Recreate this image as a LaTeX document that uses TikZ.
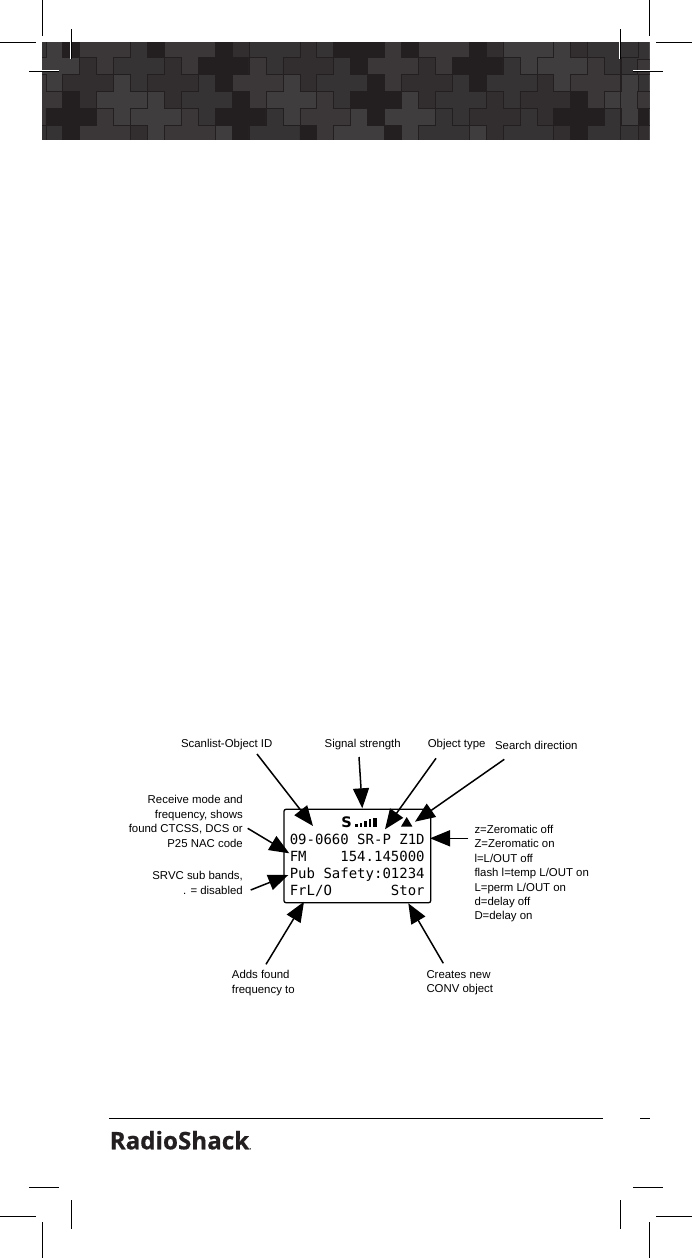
\documentclass[tikz,border=0pt]{standalone}
\usepackage{fontspec}
\setmainfont{Liberation Sans}
\newfontfamily\lcdfont{DejaVu Sans Mono}
\newfontfamily\logofont{Open Sans}[BoldFeatures={FakeBold=0.7}]
\usetikzlibrary{arrows.meta}
\definecolor{shA}{HTML}{403D3E}
\definecolor{shB}{HTML}{3B3738}
\definecolor{shC}{HTML}{363334}
\definecolor{shD}{HTML}{322E2F}
\definecolor{shE}{HTML}{231F20}
\tikzset{
  x=1pt,y=-1pt,
  cropmark/.style={line width=1pt,black,preaction={draw=white,line width=2.2pt}},
  callout/.style={line width=1.5pt,black,-{Triangle[length=20pt,width=16pt]}},
  lbl/.style={font=\fontsize{11.4}{14.4}\selectfont,inner sep=0pt,text=black},
  lcd/.style={font=\fontsize{14}{14}\lcdfont,anchor=base west,inner sep=0pt,text=black},
  tile/.style={draw=shE,line width=.5pt}
}
\begin{document}
\begin{tikzpicture}
\useasboundingbox (0,0) rectangle (692,1258);
% banner
\begin{scope}
\clip (42,42) rectangle (649.7,139.5);
\fill[shC] (42,42) rectangle (649.7,139.5);
\foreach \a/\b/\c in {
 -3/-4/shE,2/-4/shE,7/-4/shD,12/-4/shC,17/-4/shE,22/-4/shD,27/-4/shD,
 -6/-3/shC,-1/-3/shB,4/-3/shB,9/-3/shC,14/-3/shE,19/-3/shB,24/-3/shA,29/-3/shC,
 -4/-2/shA,1/-2/shC,6/-2/shE,11/-2/shD,16/-2/shB,21/-2/shE,26/-2/shA,31/-2/shC,
 -2/-1/shD,3/-1/shD,8/-1/shB,13/-1/shC,18/-1/shD,23/-1/shC,28/-1/shB,33/-1/shB,
 -5/0/shB,0/0/shA,5/0/shC,10/0/shA,15/0/shE,20/0/shC,25/0/shD,30/0/shA,
 -3/1/shE,2/1/shA,7/1/shE,12/1/shB,17/1/shA,22/1/shD,27/1/shE,32/1/shE,
 -6/2/shC,-1/2/shB,4/2/shB,9/2/shC,14/2/shA,19/2/shC,24/2/shC,29/2/shC,
 -4/3/shC,1/3/shD,6/3/shA,11/3/shE,16/3/shE,21/3/shA,26/3/shD,31/3/shD}{
  \pgfmathsetmacro{\cx}{122+16.93*\a}
  \pgfmathsetmacro{\cy}{100+16.93*\b}
  \path[tile,fill=\c,shift={(\cx,\cy)}]
    (-8.465,-25.395) -- (8.465,-25.395) -- (8.465,-8.465) -- (25.395,-8.465)
    -- (25.395,8.465) -- (8.465,8.465) -- (8.465,25.395) -- (-8.465,25.395)
    -- (-8.465,8.465) -- (-25.395,8.465) -- (-25.395,-8.465) -- (-8.465,-8.465) -- cycle;
}
\path[tile,fill=shB] (637.7,91.7) rectangle (652,108.3);
\path[tile,fill=shB] (637.7,59) rectangle (652,74.7);
\draw[shE,line width=.5pt] (620.3,59) -- (620.3,139.5);
\end{scope}
% crop marks
\draw[cropmark] (42.3,0) -- (42.3,35.7);
\draw[cropmark] (0,42.3) -- (35.7,42.3);
\draw[cropmark] (71.3,29) -- (71.3,59);
\draw[cropmark] (29,71) -- (59,71);
\draw[cropmark] (649.7,0) -- (649.7,35.7);
\draw[cropmark] (656,42.3) -- (692,42.3);
\draw[cropmark] (620.3,29) -- (620.3,59);
\draw[cropmark] (633,71) -- (663,71);
\draw[cropmark] (29,1187.3) -- (59,1187.3);
\draw[cropmark] (0,1216.7) -- (35.7,1216.7);
\draw[cropmark] (71.3,1200) -- (71.3,1229.3);
\draw[cropmark] (42.3,1222) -- (42.3,1258);
\draw[cropmark] (633,1187.3) -- (663,1187.3);
\draw[cropmark] (620.3,1200) -- (620.3,1229.3);
\draw[cropmark] (656,1216.7) -- (692,1216.7);
\draw[cropmark] (649.7,1222) -- (649.7,1258);
% footer
\draw[line width=1.2pt,black] (109,1118.3) -- (603.3,1118.3);
\draw[line width=1.2pt,black] (640.3,1118.3) -- (650,1118.3);
\node[anchor=base west,inner sep=0pt,font=\fontsize{24.2}{24.2}\logofont\bfseries,text=shE] (logo) at (109.5,1149.3) {RadioShack\fontsize{7}{7}\selectfont.};
% LCD
\draw[line width=1.3pt,rounded corners=2pt,black] (284,809.3) rectangle (430.7,902.7);
\node[lcd] (l1) at (289.6,844) {09-0660~SR-P~Z1D};
\node[lcd] (l2) at (289.6,861.5) {FM~~~~154.145000};
\node[lcd] (l3) at (289.6,878) {Pub~Safety:01234};
\node[lcd] (l4) at (289.6,895) {FrL/O~~~~~~~Stor};
\node[anchor=base,inner sep=0pt,font=\fontsize{14.5}{14.5}\selectfont\fontspec{DejaVu Sans}\bfseries] (sig) at (346.7,827) {S};
\fill (355,826.7) rectangle (357.6,824.2);
\fill (359.5,826.7) rectangle (362.2,822.5);
\fill (364,826.7) rectangle (366.7,820.5);
\fill (368.5,826.7) rectangle (371.2,818.7);
\fill (373,826.7) rectangle (376.7,817.7);
\fill (401,826.5) -- (406.7,817) -- (412.4,826.5) -- cycle;
% labels
\node[lbl,anchor=center] (tScan) at (226.7,744.7) {Scanlist-Object ID};
\node[lbl,anchor=center] (tSig) at (362.7,744.7) {Signal strength};
\node[lbl,anchor=center] (tObj) at (456.7,744.7) {Object type};
\node[lbl,anchor=center] (tDir) at (536.3,745.5) {Search direction};
\node[lbl,anchor=east,align=right] (tRx) at (243,821.5) {Receive mode and\\frequency, shows\\found CTCSS, DCS or\\P25 NAC code};
\node[lbl,anchor=east,align=right] (tSrv) at (243,883) {SRVC sub bands,\\. = disabled};
\node[lbl,anchor=west,align=left] (tZ) at (474.3,873.7) {z=Zeromatic off\\Z=Zeromatic on\\l=L/OUT off\\flash l=temp L/OUT on\\L=perm L/OUT on\\d=delay off\\D=delay on};
\node[lbl,anchor=west,align=left] (tAdd) at (231.7,983) {Adds found\\frequency to};
\node[lbl,anchor=west,align=left] (tNew) at (426.3,982.5) {Creates new\\CONV object};
% arrow ends
\coordinate (a1s) at (257,754);     \coordinate (a1e) at (313,826);
\coordinate (a2s) at (359,757);     \coordinate (a2e) at (362.3,808.3);
\coordinate (a3s) at (436,758.3);   \coordinate (a3e) at (385,829.3);
\coordinate (a4s) at (504.3,759.3); \coordinate (a4e) at (415,821.7);
\coordinate (a5s) at (468.3,838.3); \coordinate (a5e) at (430,838.3);
\coordinate (a6s) at (247.7,828.3); \coordinate (a6e) at (289.3,853.3);
\coordinate (a7s) at (250.7,890);   \coordinate (a7e) at (288.3,875);
\coordinate (a8s) at (266,964.3);   \coordinate (a8e) at (304,901.7);
\coordinate (a9s) at (443.3,963.3); \coordinate (a9e) at (408.3,903.3);
\foreach \n in {1,...,9}{\draw[callout] (a\n s) -- (a\n e);}
\end{tikzpicture}
\end{document}
